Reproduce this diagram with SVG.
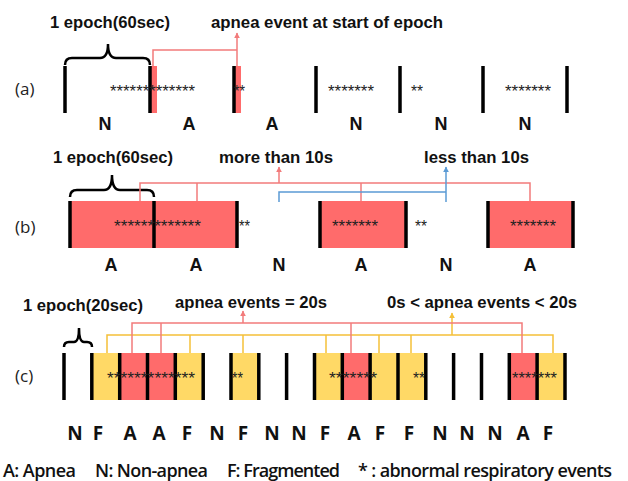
<svg xmlns="http://www.w3.org/2000/svg" width="628" height="481" viewBox="0 0 628 481">
<defs>
<style>
.bar{stroke:#000;stroke-width:3.5}
.red{fill:#FF6B6B}
.yel{fill:#FFD966}
.hdr{font-family:"Liberation Sans",Arial,sans-serif;font-weight:bold;font-size:16px;fill:#111}
.lbl{font-family:"Liberation Sans",Arial,sans-serif;font-weight:bold;font-size:18px;text-anchor:middle;fill:#111}
.clbl{font-family:"Open Sans","Noto Sans",sans-serif;font-weight:700;font-size:19px;text-anchor:middle;fill:#111}
.stars{font-family:"Liberation Sans",Arial,sans-serif;font-size:16px;fill:#222}
.tag{font-family:"Open Sans","Noto Sans",sans-serif;font-size:17px;fill:#222}
.leg{font-family:"Open Sans","Noto Sans",sans-serif;font-weight:600;font-size:18px;fill:#111}
.brace{stroke:#000;fill:none;stroke-width:2.5}
.cr{stroke:#F27B7B;fill:none;stroke-width:1.5}
.cb{stroke:#5B9BD5;fill:none;stroke-width:1.5}
.cy{stroke:#F5C038;fill:none;stroke-width:1.5}
</style>
<marker id="arR" viewBox="0 0 10 10" refX="9" refY="5" markerWidth="6" markerHeight="6" markerUnits="userSpaceOnUse" orient="auto"><path d="M0,0 L10,5 L0,10 z" fill="#F27B7B"/></marker>
<marker id="arB" viewBox="0 0 10 10" refX="9" refY="5" markerWidth="6" markerHeight="6" markerUnits="userSpaceOnUse" orient="auto"><path d="M0,0 L10,5 L0,10 z" fill="#5B9BD5"/></marker>
<marker id="arY" viewBox="0 0 10 10" refX="9" refY="5" markerWidth="6" markerHeight="6" markerUnits="userSpaceOnUse" orient="auto"><path d="M0,0 L10,5 L0,10 z" fill="#F5C038"/></marker>
</defs>
<rect width="628" height="481" fill="#fff"/>

<!-- Row (a) -->
<g id="row-a">
<text class="tag" x="15" y="95">(a)</text>
<text class="hdr" x="50" y="28" textLength="120" lengthAdjust="spacingAndGlyphs">1 epoch(60sec)</text>
<text class="hdr" x="211" y="28" textLength="232" lengthAdjust="spacingAndGlyphs">apnea event at start of epoch</text>
<path class="brace" d="M65,65 Q65,58 72,58 H100 Q108,58 108,44 Q108,58 116,58 H143 Q150,58 150,65"/>
<rect class="red" x="150" y="66" width="7" height="47"/>
<rect class="red" x="234" y="66" width="7" height="47"/>
<g class="bar">
<line x1="65" y1="66" x2="65" y2="113"/><line x1="150" y1="66" x2="150" y2="113"/><line x1="234" y1="66" x2="234" y2="113"/><line x1="316" y1="66" x2="316" y2="113"/><line x1="400" y1="66" x2="400" y2="113"/><line x1="483" y1="66" x2="483" y2="113"/><line x1="567" y1="66" x2="567" y2="113"/>
</g>
<text class="stars" x="110" y="97" textLength="85" lengthAdjust="spacingAndGlyphs">*************</text>
<text class="stars" x="234" y="97" textLength="11" lengthAdjust="spacingAndGlyphs">**</text>
<text class="stars" x="328" y="97" textLength="46" lengthAdjust="spacingAndGlyphs">*******</text>
<text class="stars" x="411" y="97" textLength="12" lengthAdjust="spacingAndGlyphs">**</text>
<text class="stars" x="505" y="97" textLength="46" lengthAdjust="spacingAndGlyphs">*******</text>
<text class="lbl" x="105" y="130">N</text><text class="lbl" x="189" y="130">A</text><text class="lbl" x="272" y="130">A</text><text class="lbl" x="356" y="130">N</text><text class="lbl" x="441" y="130">N</text><text class="lbl" x="525" y="130">N</text>
</g>

<!-- Row (b) -->
<g id="row-b">
<text class="tag" x="15" y="233">(b)</text>
<text class="hdr" x="53" y="163" textLength="120" lengthAdjust="spacingAndGlyphs">1 epoch(60sec)</text>
<text class="hdr" x="219" y="163" textLength="114" lengthAdjust="spacingAndGlyphs">more than 10s</text>
<text class="hdr" x="424" y="163" textLength="105" lengthAdjust="spacingAndGlyphs">less than 10s</text>
<path class="brace" d="M70,197 Q70,190 77,190 H104 Q112,190 112,175 Q112,190 120,190 H147 Q154,190 154,197"/>
<rect class="red" x="70" y="201" width="167" height="47"/>
<rect class="red" x="320" y="201" width="86" height="47"/>
<rect class="red" x="488" y="201" width="85" height="47"/>
<g class="bar">
<line x1="70" y1="201" x2="70" y2="248"/><line x1="154" y1="201" x2="154" y2="248"/><line x1="237" y1="201" x2="237" y2="248"/><line x1="320" y1="201" x2="320" y2="248"/><line x1="406" y1="201" x2="406" y2="248"/><line x1="488" y1="201" x2="488" y2="248"/><line x1="573" y1="201" x2="573" y2="248"/>
</g>
<text class="stars" x="114" y="232" textLength="87" lengthAdjust="spacingAndGlyphs">*************</text>
<text class="stars" x="239" y="232" textLength="11" lengthAdjust="spacingAndGlyphs">**</text>
<text class="stars" x="332" y="232" textLength="46" lengthAdjust="spacingAndGlyphs">*******</text>
<text class="stars" x="415" y="232" textLength="12" lengthAdjust="spacingAndGlyphs">**</text>
<text class="stars" x="510" y="232" textLength="46" lengthAdjust="spacingAndGlyphs">*******</text>
<text class="lbl" x="111" y="271">A</text><text class="lbl" x="196" y="271">A</text><text class="lbl" x="279" y="271">N</text><text class="lbl" x="361" y="271">A</text><text class="lbl" x="446" y="271">N</text><text class="lbl" x="530" y="271">A</text>
</g>

<!-- Row (c) -->
<g id="row-c">
<text class="tag" x="15" y="382">(c)</text>
<text class="hdr" x="23" y="311" textLength="120" lengthAdjust="spacingAndGlyphs">1 epoch(20sec)</text>
<text class="hdr" x="175" y="308" textLength="152" lengthAdjust="spacingAndGlyphs">apnea events = 20s</text>
<text class="hdr" x="387" y="308" textLength="190" lengthAdjust="spacingAndGlyphs">0s &lt; apnea events &lt; 20s</text>
<path class="brace" d="M64,347 Q64,342 69,342 H74 Q79,342 79,328 Q79,342 84,342 H87 Q92,342 92,347"/>
<rect class="yel" x="91.8" y="353" width="27.9" height="47"/>
<rect class="red" x="119.7" y="353" width="27.8" height="47"/>
<rect class="red" x="147.5" y="353" width="27.8" height="47"/>
<rect class="yel" x="175.3" y="353" width="27.9" height="47"/>
<rect class="yel" x="231" y="353" width="27.8" height="47"/>
<rect class="yel" x="314.5" y="353" width="27.8" height="47"/>
<rect class="red" x="342.3" y="353" width="27.8" height="47"/>
<rect class="yel" x="370.1" y="353" width="27.9" height="47"/>
<rect class="yel" x="398" y="353" width="27.8" height="47"/>
<rect class="red" x="509.3" y="353" width="27.8" height="47"/>
<rect class="yel" x="537.1" y="353" width="27.9" height="47"/>
<g class="bar">
<line x1="64" y1="353" x2="64" y2="400"/><line x1="91.8" y1="353" x2="91.8" y2="400"/><line x1="119.7" y1="353" x2="119.7" y2="400"/><line x1="147.5" y1="353" x2="147.5" y2="400"/><line x1="175.3" y1="353" x2="175.3" y2="400"/><line x1="203.2" y1="353" x2="203.2" y2="400"/><line x1="231" y1="353" x2="231" y2="400"/><line x1="258.8" y1="353" x2="258.8" y2="400"/><line x1="286.6" y1="353" x2="286.6" y2="400"/><line x1="314.5" y1="353" x2="314.5" y2="400"/><line x1="342.3" y1="353" x2="342.3" y2="400"/><line x1="370.1" y1="353" x2="370.1" y2="400"/><line x1="398" y1="353" x2="398" y2="400"/><line x1="425.8" y1="353" x2="425.8" y2="400"/><line x1="453.6" y1="353" x2="453.6" y2="400"/><line x1="481.5" y1="353" x2="481.5" y2="400"/><line x1="509.3" y1="353" x2="509.3" y2="400"/><line x1="537.1" y1="353" x2="537.1" y2="400"/><line x1="565" y1="353" x2="565" y2="400"/>
</g>
<text class="stars" x="107" y="384" textLength="88" lengthAdjust="spacingAndGlyphs">*************</text>
<text class="stars" x="232" y="384" textLength="11" lengthAdjust="spacingAndGlyphs">**</text>
<text class="stars" x="329" y="384" textLength="48" lengthAdjust="spacingAndGlyphs">*******</text>
<text class="stars" x="413" y="384" textLength="12" lengthAdjust="spacingAndGlyphs">**</text>
<text class="stars" x="512" y="384" textLength="45" lengthAdjust="spacingAndGlyphs">*******</text>
<text class="clbl" x="75" y="440">N</text><text class="clbl" x="98" y="440">F</text><text class="clbl" x="130" y="440">A</text><text class="clbl" x="159" y="440">A</text><text class="clbl" x="187" y="440">F</text><text class="clbl" x="217" y="440">N</text><text class="clbl" x="243" y="440">F</text><text class="clbl" x="272" y="440">N</text><text class="clbl" x="299" y="440">N</text><text class="clbl" x="325" y="440">F</text><text class="clbl" x="354" y="440">A</text><text class="clbl" x="380" y="440">F</text><text class="clbl" x="409" y="440">F</text><text class="clbl" x="440" y="440">N</text><text class="clbl" x="467" y="440">N</text><text class="clbl" x="495" y="440">N</text><text class="clbl" x="523" y="440">A</text><text class="clbl" x="548" y="440">F</text>
</g>

<!-- Connectors -->
<g id="connectors">
<polyline class="cr" points="153,66 153,50 237,50"/>
<line class="cr" x1="237" y1="66" x2="237" y2="33" marker-end="url(#arR)"/>

<polyline class="cr" points="140,201 140,183 530,183 530,201"/>
<line class="cr" x1="197" y1="183" x2="197" y2="201"/>
<line class="cr" x1="361" y1="183" x2="361" y2="201"/>
<line class="cr" x1="279" y1="183" x2="279" y2="167" marker-end="url(#arR)"/>
<polyline class="cb" points="279,202 279,192 446,192"/>
<line class="cb" x1="446" y1="202" x2="446" y2="167" marker-end="url(#arB)"/>

<polyline class="cy" points="107,353 107,335 553,335 553,353"/>
<line class="cy" x1="190" y1="335" x2="190" y2="353"/>
<line class="cy" x1="243" y1="335" x2="243" y2="353"/>
<line class="cy" x1="326" y1="335" x2="326" y2="353"/>
<line class="cy" x1="379" y1="335" x2="379" y2="353"/>
<line class="cy" x1="411" y1="335" x2="411" y2="353"/>
<line class="cy" x1="452" y1="335" x2="452" y2="313" marker-end="url(#arY)"/>
<polyline class="cr" points="132,353 132,323 522,323 522,353"/>
<line class="cr" x1="161" y1="323" x2="161" y2="353"/>
<line class="cr" x1="351" y1="323" x2="351" y2="353"/>
<line class="cr" x1="243" y1="323" x2="243" y2="311" marker-end="url(#arR)"/>
</g>

<!-- Legend -->
<g id="legend">
<text class="leg" x="3" y="477" textLength="73" lengthAdjust="spacing">A: Apnea</text>
<text class="leg" x="95" y="477" textLength="113" lengthAdjust="spacing">N: Non-apnea</text>
<text class="leg" x="227" y="477" textLength="113" lengthAdjust="spacing">F: Fragmented</text>
<text class="leg" x="358" y="477" textLength="254" lengthAdjust="spacing">* : abnormal respiratory events</text>
</g>
</svg>
